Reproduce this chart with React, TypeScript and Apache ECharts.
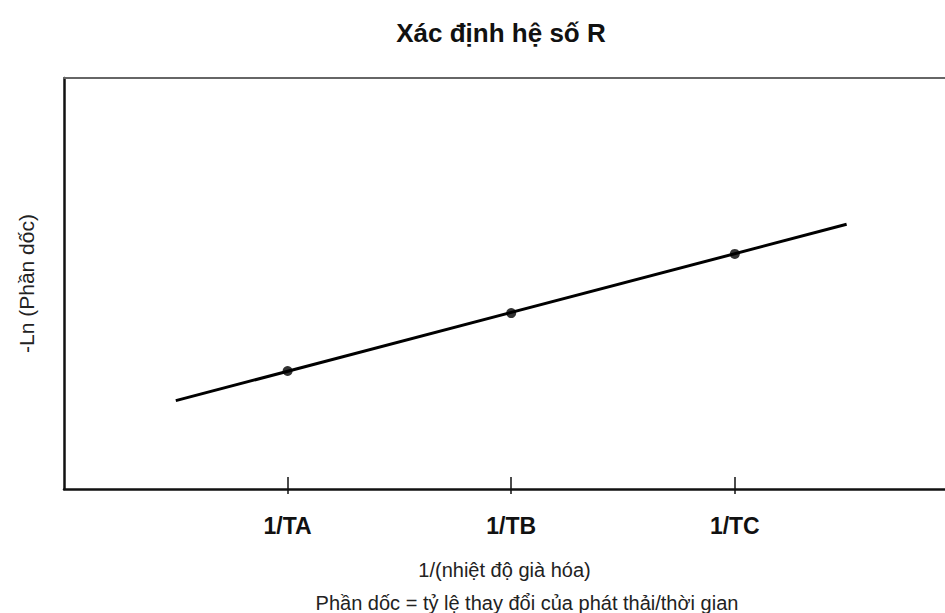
import React, { useEffect, useRef } from "react";
import * as echarts from "echarts";

const tickValues = [1, 2, 3];
const tickLabels = ["1/TA", "1/TB", "1/TC"];
const pointValues = [2.87, 4.28, 5.72];
const lineX = [0.5, 3.5];
const lineY = [2.15, 6.44];

const FONT = "'Liberation Sans', Arial, sans-serif";

export default function App() {
  const ref = useRef<HTMLDivElement>(null);
  useEffect(() => {
    if (!ref.current) return;
    const chart = echarts.init(ref.current, null, { renderer: "svg" });
    chart.setOption({
      animation: false,
      backgroundColor: "#ffffff",
      title: [
        {
          text: "Xác định hệ số R",
          left: 496,
          top: 15,
          textAlign: "center",
          textStyle: { fontFamily: FONT, fontSize: 26, fontWeight: "bold", color: "#111" },
        },
        {
          text: "Phần dốc = tỷ lệ thay đổi của phát thải/thời gian",
          left: 522,
          top: 588,
          textAlign: "center",
          textStyle: { fontFamily: FONT, fontSize: 20, fontWeight: "normal", color: "#222" },
        },
      ],
      grid: { left: 64, right: 0, top: 78, bottom: 124, containLabel: false },
      xAxis: [
        {
          type: "value",
          position: "bottom",
          min: 0,
          max: 3.94,
          interval: 1,
          splitLine: { show: false },
          axisLine: { show: true, onZero: false, lineStyle: { color: "#111", width: 2.5 } },
          axisTick: {
            show: true,
            inside: true,
            length: 12,
            customValues: tickValues,
            lineStyle: { color: "#111", width: 1.5 },
          },
          axisLabel: {
            show: true,
            customValues: tickValues,
            margin: 25,
            fontFamily: FONT,
            fontSize: 23,
            fontWeight: "bold",
            color: "#111",
            formatter: (v: number) => {
              const i = tickValues.indexOf(Math.round(v));
              return i >= 0 ? tickLabels[i] : "";
            },
          },
          name: "1/(nhiệt độ già hóa)",
          nameLocation: "middle",
          nameGap: 71,
          nameTextStyle: { fontFamily: FONT, fontSize: 20, color: "#222" },
        },
        {
          type: "value",
          position: "bottom",
          min: 0,
          max: 3.94,
          interval: 1,
          splitLine: { show: false },
          axisLine: { show: false },
          axisTick: {
            show: true,
            inside: false,
            length: 5,
            customValues: tickValues,
            lineStyle: { color: "#111", width: 1.5 },
          },
          axisLabel: { show: false },
        },
        {
          type: "value",
          position: "top",
          min: 0,
          max: 3.94,
          splitLine: { show: false },
          axisLine: { show: true, lineStyle: { color: "#666", width: 2 } },
          axisTick: { show: false },
          axisLabel: { show: false },
        },
      ],
      yAxis: {
        type: "value",
        min: 0,
        max: 10,
        splitLine: { show: false },
        axisLine: { show: true, onZero: false, lineStyle: { color: "#111", width: 2.5 } },
        axisTick: { show: false },
        axisLabel: { show: false },
        name: "-Ln (Phần dốc)",
        nameLocation: "middle",
        nameGap: 27,
        nameRotate: 90,
        nameTextStyle: { fontFamily: FONT, fontSize: 21, color: "#222" },
      },
      series: [
        {
          type: "line",
          xAxisIndex: 0,
          data: lineX.map((x, i) => [x, lineY[i]]),
          symbol: "none",
          lineStyle: { color: "#000", width: 3 },
          silent: true,
        },
        {
          type: "scatter",
          xAxisIndex: 0,
          data: tickValues.map((x, i) => [x, pointValues[i]]),
          symbol: "circle",
          symbolSize: 10,
          itemStyle: { color: "#000" },
          silent: true,
        },
      ],
    });
    return () => chart.dispose();
  }, []);
  return (
    <div
      ref={ref}
      style={{ position: "fixed", left: 0, top: 0, width: 945, height: 613, background: "#fff" }}
    />
  );
}
